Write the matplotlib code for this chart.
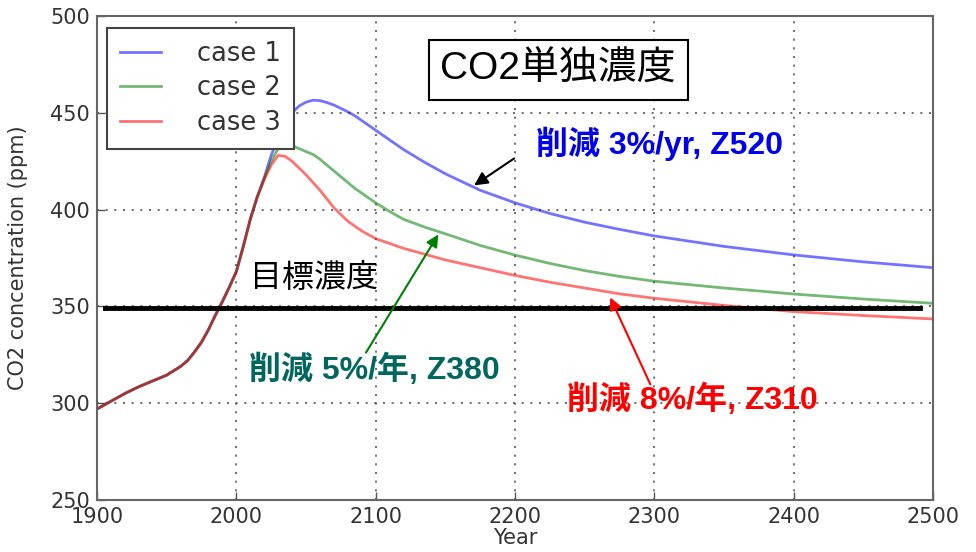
import matplotlib
matplotlib.use("Agg")
import matplotlib.pyplot as plt

# years and CO2 concentration (ppm)
years = [1900, 1910, 1920, 1930, 1940, 1950, 1960, 1965, 1970, 1975, 1980, 1985,
         1990, 1995, 2000, 2005, 2010, 2015,
         2020, 2025, 2030, 2035, 2040, 2045, 2050, 2055, 2060, 2065, 2070, 2075,
         2080, 2085, 2090, 2095, 2100,
         2110, 2120, 2135, 2150, 2175, 2200, 2225, 2250, 2275, 2300,
         2350, 2400, 2450, 2500]

# all three cases share the same history up to ~2015
history = [297, 301, 305, 308.5, 311.5, 314.5, 319, 322, 326.5, 331.5, 338, 345.5,
           352.5, 360, 368, 381, 395, 406.5]

case1 = history + [416.5, 428, 437, 444, 450, 453.5, 455.5, 456.5, 456.3, 455.3,
                   454, 452.3, 450.5, 448.5, 446, 443.5, 441,
                   436, 431, 424.5, 418.5, 410, 403.5, 398, 393.5, 389.8, 386.4,
                   381, 376.6, 373, 370]

case2 = history + [416, 425, 431.5, 433.5, 433, 431.5, 430, 428.5, 426, 423,
                   420, 417, 414, 411, 408.5, 406, 403.5,
                   399, 395, 391, 387.5, 381.5, 376.5, 372.2, 368.5, 365.5, 363,
                   359.5, 356.4, 353.8, 351.6]

case3 = history + [415.5, 423, 428, 427.5, 425, 421.5, 418, 414, 410, 405.5,
                   401, 397.5, 394, 391.5, 389, 387, 385,
                   382.5, 380, 377, 374, 370, 366, 362.5, 359.5, 356.5, 354.2,
                   350.5, 347.3, 345.3, 343.5]

target = 349
target_span = [1906, 2491]

cjk = ['Liberation Sans', 'Noto Sans CJK JP']

fig = plt.figure(figsize=(9.76, 5.52), dpi=100)
ax = fig.add_axes([97/976, 52/552, 836/976, 484/552])

ax.plot(years, case1, color='b', alpha=0.55, lw=2, label='case 1')
ax.plot(years, case2, color='g', alpha=0.55, lw=2, label='case 2')
ax.plot(years, case3, color='r', alpha=0.55, lw=2, label='case 3')
ax.plot(target_span, [target, target], color='k', lw=3.5)

ax.set_xlim(1900, 2500)
ax.set_ylim(250, 500)
ax.set_xticks(range(1900, 2501, 100))
ax.set_yticks(range(250, 501, 50))
ax.grid(True, color='#555555', linestyle=(0, (1.2, 4)), lw=1.2)
ax.tick_params(direction='in', length=6, width=1, colors='#555555',
               labelcolor='#333333', labelsize=15, pad=5)
for s in ax.spines.values():
    s.set_color('#666666')
    s.set_linewidth(1.5)

ax.set_xlabel('Year', fontsize=15, color='#333333', labelpad=1)
ax.set_ylabel('CO2 concentration (ppm)', fontsize=15, color='#333333', labelpad=16)

leg = ax.legend(loc='upper left', bbox_to_anchor=(0.012, 0.975), borderaxespad=0,
                fontsize=18.5, fancybox=False, framealpha=1, handlelength=1.6,
                handletextpad=1.4, labelspacing=0.33, borderpad=0.5)
leg.get_frame().set_edgecolor('#444444')
leg.get_frame().set_linewidth(1.5)
for t in leg.get_texts():
    t.set_color('#333333')

ax.text(2231, 472, 'CO2単独濃度', family=cjk, fontsize=28, ha='center', va='center',
        bbox=dict(boxstyle='square,pad=0.3', fc='white', ec='black', lw=1.5), zorder=5)
ax.text(2010, 364, '目標濃度', family=cjk, fontsize=23, ha='left', va='center')

ax.text(2215, 434, '削減 3%/yr, Z520', family=cjk, fontsize=23, weight='bold',
        color='#0000ee', ha='left', va='center')
ax.annotate('', xy=(2169, 411.7), xytext=(2201, 427.2),
            arrowprops=dict(arrowstyle='-|>', color='black', lw=1.5, mutation_scale=20))

ax.text(2009, 317, '削減 5%/年, Z380', family=cjk, fontsize=23, weight='bold',
        color='#00665e', ha='left', va='center')
ax.annotate('', xy=(2146, 388.4), xytext=(2092, 324.9),
            arrowprops=dict(arrowstyle='-|>', color='green', lw=1.5, mutation_scale=18))

ax.text(2237, 301.5, '削減 8%/年, Z310', family=cjk, fontsize=23, weight='bold',
        color='#ff0000', ha='left', va='center')
ax.annotate('', xy=(2267.5, 355.9), xytext=(2298, 308.4),
            arrowprops=dict(arrowstyle='-|>', color='red', lw=1.5, mutation_scale=18))

fig.savefig('out.png', dpi=100)
